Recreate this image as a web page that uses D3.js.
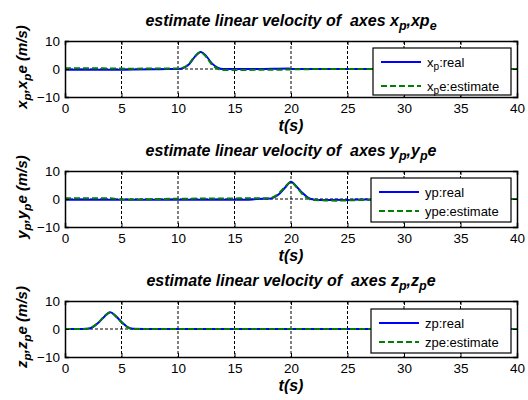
<!DOCTYPE html>
<html><head><meta charset="utf-8">
<script src="https://cdn.jsdelivr.net/npm/d3@7"></script>
<style>body{margin:0;background:#fff} text{font-family:"Liberation Sans",Arial,Helvetica,sans-serif; white-space:pre}</style>
</head><body><svg id="c" width="528" height="400"></svg>
<script>
// ---- data ----
const xTicks = [0,5,10,15,20,25,30,35,40];
const yTicks = [-10,0,10];

const tX   = [0,2,4,6,8,9,10,10.5,11,11.5,12,12.5,13,13.5,14,15,17,19.8,20,25,30,40];
const xpReal = [-0.3,-0.3,-0.3,-0.2,-0.1,0,0,0.4,1.8,4.4,6.1,4.6,2.0,0.5,0,0,0,0.2,0,0,0,0];
const xpEst  = [0.3,0.3,0.2,0.1,0.2,0.2,0.2,0.6,2.0,4.6,6.0,4.3,1.6,0.1,-0.4,-0.4,-0.3,-0.2,-0.1,0,0,0];

const tY   = [0,4,5,10,15,16,17,18,18.5,19,19.5,20,20.5,21,21.5,22,23,24,25,26,27,30,40];
const ypReal = [-0.3,-0.3,-0.3,-0.3,-0.3,-0.3,0,0.1,0.6,2.0,4.2,6.2,4.4,2.2,0.5,-0.2,-0.4,-0.3,-0.4,-0.2,-0.2,0,0];
const ypEst  = [0.3,0.3,-0.2,0.1,0.2,0.3,0.3,0.3,0.8,2.3,4.5,6.0,4.2,1.8,0.2,-0.4,-0.5,-0.6,-0.5,-0.4,-0.3,0,0];

const tZ   = [0,1,2,2.5,3,3.5,4,4.5,5,5.5,6,8,10,20,30,40];
const zpReal = [0,0,0.1,0.8,2.4,4.5,6.0,4.6,2.5,0.8,0.1,0,0,0,0,0];
const zpEst  = [0,0,0.1,0.9,2.5,4.6,6.0,4.5,2.4,0.7,0,0,0,0,0,0];

// title / label pieces: [text, isSub]
const titles = [
  [["estimate linear velocity of  axes x",0],["p",1],[",xp",0],["e",1]],
  [["estimate linear velocity of  axes y",0],["p",1],[",y",0],["p",1],["e",0]],
  [["estimate linear velocity of  axes z",0],["p",1],[",z",0],["p",1],["e",0]]
];
const yLabels = [
  [["x",0],["p",1],[",x",0],["p",1],["e (m/s)",0]],
  [["y",0],["p",1],[",y",0],["p",1],["e (m/s)",0]],
  [["z",0],["p",1],[",z",0],["p",1],["e (m/s)",0]]
];
const legendReal = [ [["x",0],["p",1],[":real",0]], [["yp:real",0]], [["zp:real",0]] ];
const legendEst  = [ [["x",0],["p",1],["e:estimate",0]], [["ype:estimate",0]], [["zpe:estimate",0]] ];
const xLabel = "t(s)";

const panels = [
  {t:tX, real:xpReal, est:xpEst},
  {t:tY, real:ypReal, est:ypEst},
  {t:tZ, real:zpReal, est:zpEst}
];

// ---- layout ----
const svg = d3.select("#c");
const left = 65, right = 517, ph = 56;
const tops = [41,171,301];
const legBox = [{x:373,y:48,w:138,h:47,r1:14,r2:38},{x:371,y:178,w:140,h:44,r1:14,r2:33},{x:371,y:309,w:140,h:44,r1:14,r2:33}];

function rich(sel, parts, size){
  parts.forEach(([s,sub])=>{
    const ts = sel.append("tspan").text(s);
    if(sub){ ts.attr("baseline-shift","-30%").attr("font-size", size*0.78); }
  });
}

panels.forEach((p,i)=>{
  const top = tops[i];
  const x = d3.scaleLinear().domain([0,40]).range([left,right]);
  const y = d3.scaleLinear().domain([-10,10]).range([top+ph, top]);
  const g = svg.append("g");

  // grid
  g.selectAll(".vg").data(xTicks.filter(d=>d>0&&d<40)).enter().append("line")
    .attr("x1",d=>x(d)).attr("x2",d=>x(d)).attr("y1",top).attr("y2",top+ph)
    .attr("stroke","#000").attr("stroke-width",1).attr("stroke-dasharray","3,2");
  g.selectAll(".hg").data(yTicks.filter(d=>d>-10&&d<10)).enter().append("line")
    .attr("x1",left).attr("x2",right).attr("y1",d=>y(d)).attr("y2",d=>y(d))
    .attr("stroke","#000").attr("stroke-width",1).attr("stroke-dasharray","3,2");

  // lines
  const idx = d3.range(p.t.length);
  const lr = d3.line().x(k=>x(p.t[k])).y(k=>y(p.real[k])).curve(d3.curveMonotoneX);
  const le = d3.line().x(k=>x(p.t[k])).y(k=>y(p.est[k])).curve(d3.curveMonotoneX);
  g.append("path").attr("d",lr(idx)).attr("fill","none").attr("stroke","#0000ff").attr("stroke-width",2);
  g.append("path").attr("d",le(idx)).attr("fill","none").attr("stroke","#007f00").attr("stroke-width",2).attr("stroke-dasharray","6,3");

  // axes
  const ax = g.append("g").attr("transform",`translate(0,${top+ph})`)
    .call(d3.axisBottom(x).tickValues(xTicks).tickSize(-4).tickPadding(6).tickFormat(d3.format("d")));
  const axT = g.append("g").attr("transform",`translate(0,${top})`)
    .call(d3.axisTop(x).tickValues(xTicks).tickSize(-4).tickFormat(""));
  const ay = g.append("g").attr("transform",`translate(${left},0)`)
    .call(d3.axisLeft(y).tickValues(yTicks).tickSize(-4).tickPadding(5).tickFormat(d3.format("d")));
  const ayR = g.append("g").attr("transform",`translate(${right},0)`)
    .call(d3.axisRight(y).tickValues(yTicks).tickSize(-4).tickFormat(""));
  [ax,axT,ay,ayR].forEach(a=>{
    a.select(".domain").attr("stroke","#000").attr("stroke-width",1.5);
    a.selectAll(".tick line").attr("stroke","#000");
    a.selectAll("text").attr("font-size",13.5).attr("fill","#000").attr("font-family","Liberation Sans, Arial, sans-serif");
  });
  ay.selectAll("text").attr("dy","0.35em");

  // title
  const tt = g.append("text").attr("x",(left+right)/2).attr("y",top-15).attr("text-anchor","middle")
    .attr("font-size",16).attr("font-weight","bold").attr("font-style","italic");
  rich(tt, titles[i], 16);

  // x label
  g.append("text").attr("x",(left+right)/2).attr("y",top+ph+34).attr("text-anchor","middle")
    .attr("font-size",16).attr("font-weight","bold").attr("font-style","italic").text(xLabel);

  // y label
  const yl = g.append("text").attr("transform",`translate(27,${top+ph/2-2}) rotate(-90)`).attr("text-anchor","middle")
    .attr("font-size",15).attr("font-weight","bold").attr("font-style","italic");
  rich(yl, yLabels[i], 15);

  // legend
  const L = legBox[i];
  const lg = g.append("g");
  lg.append("rect").attr("x",L.x).attr("y",L.y).attr("width",L.w).attr("height",L.h)
    .attr("fill","#fff").attr("stroke","#000").attr("stroke-width",1.2);
  lg.append("line").attr("x1",L.x+8).attr("x2",L.x+48).attr("y1",L.y+L.r1).attr("y2",L.y+L.r1)
    .attr("stroke","#0000ff").attr("stroke-width",2);
  lg.append("line").attr("x1",L.x+8).attr("x2",L.x+48).attr("y1",L.y+L.r2).attr("y2",L.y+L.r2)
    .attr("stroke","#007f00").attr("stroke-width",2).attr("stroke-dasharray","6,3");
  const t1 = lg.append("text").attr("x",L.x+54).attr("y",L.y+L.r1).attr("dy","0.35em").attr("font-size",13);
  rich(t1, legendReal[i], 13);
  const t2 = lg.append("text").attr("x",L.x+54).attr("y",L.y+L.r2).attr("dy","0.35em").attr("font-size",13);
  rich(t2, legendEst[i], 13);
});
</script></body></html>
